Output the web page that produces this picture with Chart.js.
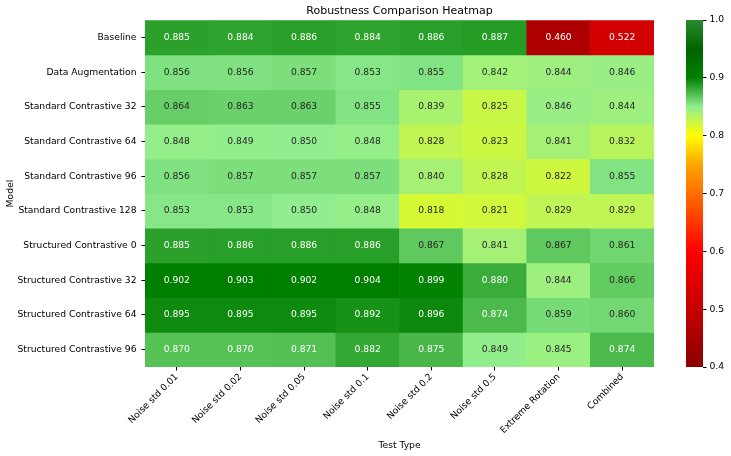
<!DOCTYPE html>
<html>
<head>
<meta charset="utf-8">
<script src="https://cdn.jsdelivr.net/npm/chart.js@4.4.1/dist/chart.umd.min.js"></script>
<style>
  body { margin: 0; background: #fff; }
  .box { position: absolute; top: 0; height: 456px; }
  #main { left: 0; width: 731px; }
  #bar { left: 660px; width: 71px; }
</style>
</head>
<body>
<div class="box" id="main"><canvas id="heat"></canvas></div>
<div class="box" id="bar"><canvas id="cbar"></canvas></div>
<script>
// Filas y columnas
const models = [
  "Baseline", "Data Augmentation", "Standard Contrastive 32", "Standard Contrastive 64",
  "Standard Contrastive 96", "Standard Contrastive 128", "Structured Contrastive 0",
  "Structured Contrastive 32", "Structured Contrastive 64", "Structured Contrastive 96",
];
const tests = [
  "Noise std 0.01", "Noise std 0.02", "Noise std 0.05", "Noise std 0.1",
  "Noise std 0.2", "Noise std 0.5", "Extreme Rotation", "Combined",
];

// Valores por modelo
const baseline = [0.885, 0.884, 0.886, 0.884, 0.886, 0.887, 0.460, 0.522];
const dataAug = [0.856, 0.856, 0.857, 0.853, 0.855, 0.842, 0.844, 0.846];
const std32 = [0.864, 0.863, 0.863, 0.855, 0.839, 0.825, 0.846, 0.844];
const std64 = [0.848, 0.849, 0.850, 0.848, 0.828, 0.823, 0.841, 0.832];
const std96 = [0.856, 0.857, 0.857, 0.857, 0.840, 0.828, 0.822, 0.855];
const std128 = [0.853, 0.853, 0.850, 0.848, 0.818, 0.821, 0.829, 0.829];
const str0 = [0.885, 0.886, 0.886, 0.886, 0.867, 0.841, 0.867, 0.861];
const str32 = [0.902, 0.903, 0.902, 0.904, 0.899, 0.880, 0.844, 0.866];
const str64 = [0.895, 0.895, 0.895, 0.892, 0.896, 0.874, 0.859, 0.860];
const str96 = [0.870, 0.870, 0.871, 0.882, 0.875, 0.849, 0.845, 0.874];
const rows = [baseline, dataAug, std32, std64, std96, std128, str0, str32, str64, str96];

// Escala de color
const vmin = 0.4, vmax = 1.0;
const colorTicks = [0.4, 0.5, 0.6, 0.7, 0.8, 0.9, 1.0];
const stops = [
  [0.40, [139, 0, 0]],
  [0.60, [255, 0, 0]],
  [0.75, [255, 165, 0]],
  [0.80, [255, 255, 0]],
  [0.85, [144, 238, 144]],
  [0.90, [0, 128, 0]],
  [0.95, [0, 100, 0]],
  [1.00, [40, 140, 45]],
];

function rgbFor(v) {
  if (v <= stops[0][0]) return stops[0][1];
  for (let i = 1; i < stops.length; i++) {
    const [p1, c1] = stops[i];
    const [p0, c0] = stops[i - 1];
    if (v <= p1) {
      const t = (v - p0) / (p1 - p0);
      return c0.map((c, k) => Math.round(c + (c1[k] - c) * t));
    }
  }
  return stops[stops.length - 1][1];
}
const css = (c) => `rgb(${c[0]},${c[1]},${c[2]})`;

function luminance(c) {
  const lin = c.map((x) => {
    x /= 255;
    return x <= 0.03928 ? x / 12.92 : Math.pow((x + 0.055) / 1.055, 2.4);
  });
  return 0.2126 * lin[0] + 0.7152 * lin[1] + 0.0722 * lin[2];
}

const FONT = "'DejaVu Sans', sans-serif";
const fmt = (v) => v.toFixed(3);

// Etiquetas dentro de cada celda
const cellLabels = {
  id: "cellLabels",
  afterDatasetsDraw(chart) {
    const ctx = chart.ctx;
    ctx.save();
    ctx.font = `9.2px ${FONT}`;
    ctx.textAlign = "center";
    ctx.textBaseline = "middle";
    chart.data.datasets.forEach((ds, di) => {
      chart.getDatasetMeta(di).data.forEach((bar, i) => {
        const v = rows[di][i];
        ctx.fillStyle = luminance(rgbFor(v)) > 0.415 ? "#262626" : "#fff";
        ctx.fillText(fmt(v), bar.x, (bar.y + bar.base) / 2);
      });
    });
    ctx.restore();
  },
};

new Chart(document.getElementById("heat"), {
  type: "bar",
  data: {
    labels: tests,
    datasets: rows.map((vals, r) => ({
      label: models[r],
      data: vals.map(() => [r, r + 1]),
      backgroundColor: vals.map((v) => css(rgbFor(v))),
      borderWidth: 0,
      grouped: false,
      barPercentage: 1,
      categoryPercentage: 1,
    })),
  },
  options: {
    responsive: true,
    maintainAspectRatio: false,
    animation: false,
    layout: { padding: { left: 0, right: 77, top: 0, bottom: 0 } },
    plugins: {
      legend: { display: false },
      tooltip: { enabled: false },
      title: {
        display: true,
        text: "Robustness Comparison Heatmap",
        color: "#000",
        font: { family: FONT, size: 11, weight: "normal" },
        padding: { top: 5, bottom: 2 },
        fullSize: false,
      },
    },
    scales: {
      x: {
        grid: { display: true, drawOnChartArea: false, offset: false, tickLength: 3.5, color: "#000" },
        border: { display: false },
        ticks: {
          color: "#000",
          font: { family: FONT, size: 9.2 },
          maxRotation: 45,
          minRotation: 45,
          autoSkip: false,
          padding: 1,
        },
        title: {
          display: true,
          text: "Test Type",
          color: "#000",
          font: { family: FONT, size: 9.2 },
          padding: { top: 0, bottom: 5 },
        },
        afterFit: (s) => { s.height = 89; },
      },
      y: {
        type: "linear",
        min: 0,
        max: models.length,
        reverse: true,
        afterBuildTicks: (s) => { s.ticks = models.map((_, i) => ({ value: i + 0.5 })); },
        grid: { display: true, drawOnChartArea: false, tickLength: 3.5, color: "#000" },
        border: { display: false },
        ticks: {
          color: "#000",
          font: { family: FONT, size: 9.2 },
          autoSkip: false,
          padding: 5,
          callback: (v) => models[Math.floor(v)],
        },
        title: {
          display: true,
          text: "Model",
          color: "#000",
          font: { family: FONT, size: 9.2 },
          padding: { top: 5, bottom: 0 },
        },
        afterFit: (s) => { s.width = 145; },
      },
    },
  },
  plugins: [cellLabels],
});

// Barra de color
function gradientFill(context) {
  const area = context.chart.chartArea;
  if (!area) return css(rgbFor(0.8));
  const g = context.chart.ctx.createLinearGradient(0, area.bottom, 0, area.top);
  stops.forEach(([p, c]) => g.addColorStop((p - vmin) / (vmax - vmin), css(c)));
  return g;
}

new Chart(document.getElementById("cbar"), {
  type: "bar",
  data: {
    labels: [""],
    datasets: [{
      data: [[vmin, vmax]],
      backgroundColor: gradientFill,
      borderWidth: 0,
      barPercentage: 1,
      categoryPercentage: 1,
    }],
  },
  options: {
    responsive: true,
    maintainAspectRatio: false,
    animation: false,
    layout: { padding: { left: 26, top: 20, bottom: 89, right: 0 } },
    plugins: { legend: { display: false }, tooltip: { enabled: false } },
    scales: {
      x: { display: false },
      y: {
        position: "right",
        min: vmin,
        max: vmax,
        afterBuildTicks: (s) => { s.ticks = colorTicks.map((v) => ({ value: v })); },
        grid: { display: true, drawOnChartArea: false, tickLength: 3.5, color: "#000" },
        border: { display: false },
        ticks: {
          color: "#000",
          font: { family: FONT, size: 9.2 },
          padding: 3,
          callback: (v) => v.toFixed(1),
        },
        afterFit: (s) => { s.width = 28; },
      },
    },
  },
});
</script>
</body>
</html>
